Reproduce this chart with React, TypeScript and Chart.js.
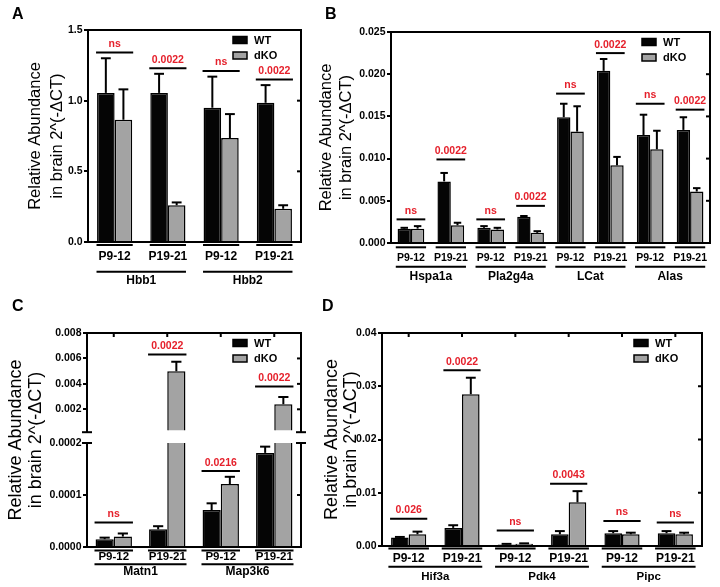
import React, { useEffect, useRef } from "react";
import { Chart, registerables } from "chart.js";

Chart.register(...registerables);

const FONT = "'Liberation Sans', Arial, Helvetica, sans-serif";
const WT_COLOR = "#050505";
const KO_COLOR = "#a3a3a3";
const SIG_COLOR = "#e5202b";
const SERIES_LABELS = ["WT", "dKO"];
const Y_TITLE = ["Relative Abundance", "in brain 2^(-ΔCT)"];

// ---------- Panel A ----------
const aCategories = ["P9-12", "P19-21", "P9-12", "P19-21"];
const aGenes = ["Hbb1", "Hbb2"];
const aWT = [1.055, 1.055, 0.95, 0.985];
const aWTErr = [0.245, 0.135, 0.22, 0.125];
const aKO = [0.865, 0.26, 0.735, 0.235];
const aKOErr = [0.215, 0.02, 0.17, 0.025];
const aSigLabels = ["ns", "0.0022", "ns", "0.0022"];
const aSigLevels = [1.34, 1.23, 1.21, 1.15];
const aTicks = [0, 0.5, 1.0, 1.5];

// ---------- Panel B ----------
const bCategories = ["P9-12", "P19-21", "P9-12", "P19-21", "P9-12", "P19-21", "P9-12", "P19-21"];
const bGenes = ["Hspa1a", "Pla2g4a", "LCat", "Alas"];
const bWT = [0.0017, 0.0073, 0.0018, 0.0031, 0.0149, 0.0204, 0.0128, 0.0134];
const bWTErr = [0.0001, 0.001, 0.0002, 0.0001, 0.0016, 0.0014, 0.0024, 0.0015];
const bKO = [0.0017, 0.0021, 0.0016, 0.0012, 0.0132, 0.0092, 0.0111, 0.0061];
const bKOErr = [0.0003, 0.0003, 0.0002, 0.0002, 0.003, 0.001, 0.0022, 0.0004];
const bSigLabels = ["ns", "0.0022", "ns", "0.0022", "ns", "0.0022", "ns", "0.0022"];
const bSigLevels = [0.0028, 0.0099, 0.0028, 0.0044, 0.0177, 0.0225, 0.0165, 0.0158];
const bTicks = [0, 0.005, 0.01, 0.015, 0.02, 0.025];

// ---------- Panel C (broken axis) ----------
const cCategories = ["P9-12", "P19-21", "P9-12", "P19-21"];
const cGenes = ["Matn1", "Map3k6"];
const cWT = [0.000015, 0.000034, 0.000071, 0.000181];
const cWTErr = [0.000003, 0.000006, 0.000013, 0.000012];
const cKO = [0.00002, 0.005, 0.000121, 0.0024];
const cKOErr = [0.000006, 0.00073, 0.000014, 0.00056];
const cSigLabels = ["ns", "0.0022", "0.0216", "0.0022"];
const cSigLevels = [0.000047, 0.0063, 0.000146, 0.0038];
const cUpperTicks = [0.002, 0.004, 0.006, 0.008];
const cLowerTicks = [0, 0.0001, 0.0002];

// ---------- Panel D ----------
const dCategories = ["P9-12", "P19-21", "P9-12", "P19-21", "P9-12", "P19-21"];
const dGenes = ["Hif3a", "Pdk4", "Pipc"];
const dWT = [0.0016, 0.0034, 0.0003, 0.0022, 0.0024, 0.0024];
const dWTErr = [0.0001, 0.0005, 0.0001, 0.0006, 0.0004, 0.0004];
const dKO = [0.0022, 0.0285, 0.0004, 0.0082, 0.0022, 0.0022];
const dKOErr = [0.0005, 0.0031, 0.0001, 0.0021, 0.0003, 0.0003];
const dSigLabels = ["0.026", "0.0022", "ns", "0.0043", "ns", "ns"];
const dSigLevels = [0.0051, 0.033, 0.0029, 0.0117, 0.0047, 0.0044];
const dTicks = [0, 0.01, 0.02, 0.03, 0.04];

interface Panel {
  key: string;
  categories: string[];
  genes: string[];
  wt: number[];
  wtErr: number[];
  ko: number[];
  koErr: number[];
  sigLabels: string[];
  sigLevels: number[];
  ticks: number[];
  decimals: number;
  min: number;
  max: number;
  canvas: { x: number; y: number; w: number; h: number };
  area: { l: number; r: number; t: number; b: number };
  title?: { size: number; lh: number; centerX: number };
  sideTitle?: { size: number; lh: number; centerX: number; centerY: number };
  showX: boolean;
  xH: number;
  xFont: number;
  xPad: number;
  subY: number;
  geneLineY: number;
  geneTextY: number;
  geneFont: number;
  subFrac: number;
  catPct: number;
  frameTop: boolean;
  frameBottom: boolean;
  topTicks: boolean;
  legend: boolean;
  breakCap?: "top" | "bottom";
  clipBottom: number;
}

const common = {
  showX: true,
  frameTop: true,
  frameBottom: true,
  topTicks: false,
  legend: true,
  clipBottom: 0,
};

const panels: Panel[] = [
  {
    ...common,
    key: "A",
    categories: aCategories, genes: aGenes,
    wt: aWT, wtErr: aWTErr, ko: aKO, koErr: aKOErr,
    sigLabels: aSigLabels, sigLevels: aSigLevels,
    ticks: aTicks, decimals: 1, min: 0, max: 1.5,
    canvas: { x: 0, y: 0, w: 360, h: 290 },
    area: { l: 88, r: 301, t: 30, b: 242 },
    title: { size: 16.5, lh: 22, centerX: 35 },
    xH: 48, xFont: 12, xPad: 7.5,
    subY: 3, geneLineY: 29.7, geneTextY: 38.5, geneFont: 12, subFrac: 0.34,
    catPct: 0.66,
  },
  {
    ...common,
    key: "B",
    categories: bCategories, genes: bGenes,
    wt: bWT, wtErr: bWTErr, ko: bKO, koErr: bKOErr,
    sigLabels: bSigLabels, sigLevels: bSigLevels,
    ticks: bTicks, decimals: 3, min: 0, max: 0.025,
    canvas: { x: 310, y: 0, w: 410, h: 290 },
    area: { l: 391, r: 710, t: 32, b: 243 },
    title: { size: 16.5, lh: 20, centerX: 326.7 },
    xH: 47, xFont: 10.5, xPad: 9,
    subY: 4.3, geneLineY: 23.7, geneTextY: 33.7, geneFont: 12, subFrac: 0.38,
    catPct: 0.67,
  },
  {
    ...common,
    key: "Cupper",
    categories: cCategories, genes: cGenes,
    wt: cWT, wtErr: cWTErr, ko: cKO, koErr: cKOErr,
    sigLabels: cSigLabels, sigLevels: cSigLevels,
    ticks: cUpperTicks, decimals: 3, min: 0.0002, max: 0.008,
    canvas: { x: 0, y: 290, w: 360, h: 150 },
    area: { l: 87, r: 301, t: 333, b: 433 },
    showX: false,
    xH: 0, xFont: 12, xPad: 0,
    subY: 0, geneLineY: 0, geneTextY: 0, geneFont: 12, subFrac: 0.36,
    catPct: 0.68,
    frameBottom: false,
    topTicks: true,
    breakCap: "bottom",
    clipBottom: -2,
  },
  {
    ...common,
    key: "Clower",
    categories: cCategories, genes: cGenes,
    wt: cWT, wtErr: cWTErr, ko: cKO, koErr: cKOErr,
    sigLabels: cSigLabels, sigLevels: cSigLevels,
    ticks: cLowerTicks, decimals: 4, min: 0, max: 0.0002,
    canvas: { x: 0, y: 290, w: 360, h: 297 },
    area: { l: 87, r: 301, t: 443, b: 547 },
    sideTitle: { size: 18, lh: 20, centerX: 16, centerY: 440 },
    xH: 40, xFont: 11.5, xPad: 2.8,
    subY: 3.5, geneLineY: 17.3, geneTextY: 25, geneFont: 12, subFrac: 0.36,
    catPct: 0.68,
    frameTop: false,
    legend: false,
    breakCap: "top",
  },
  {
    ...common,
    key: "D",
    categories: dCategories, genes: dGenes,
    wt: dWT, wtErr: dWTErr, ko: dKO, koErr: dKOErr,
    sigLabels: dSigLabels, sigLevels: dSigLevels,
    ticks: dTicks, decimals: 2, min: 0, max: 0.04,
    canvas: { x: 310, y: 290, w: 410, h: 297 },
    area: { l: 382, r: 702, t: 333, b: 546 },
    title: { size: 18, lh: 19, centerX: 331.7 },
    xH: 41, xFont: 12, xPad: 5,
    subY: 2.5, geneLineY: 20.7, geneTextY: 30.7, geneFont: 11.5, subFrac: 0.38,
    catPct: 0.66,
    topTicks: true,
  },
];

function makeDecor(p: Panel) {
  return {
    id: "decor" + p.key,
    afterDraw(chart: any) {
      const ctx = chart.ctx as CanvasRenderingContext2D;
      const area = chart.chartArea;
      const xs = chart.scales.x;
      const ys = chart.scales.y;
      const line = (x0: number, y0: number, x1: number, y1: number) => {
        ctx.beginPath();
        ctx.moveTo(x0, y0);
        ctx.lineTo(x1, y1);
        ctx.stroke();
      };
      ctx.save();

      // error bars (clipped to plot area)
      ctx.save();
      ctx.beginPath();
      ctx.rect(
        area.left - 5,
        area.top,
        area.right - area.left + 10,
        area.bottom - area.top + p.clipBottom
      );
      ctx.clip();
      ctx.strokeStyle = "#000";
      ctx.lineWidth = 2;
      const series: [number[], number[]][] = [
        [p.wt, p.wtErr],
        [p.ko, p.koErr],
      ];
      series.forEach(([vals, errs], di) => {
        const meta = chart.getDatasetMeta(di);
        meta.data.forEach((el: any, j: number) => {
          const yv = ys.getPixelForValue(vals[j]);
          const yt = ys.getPixelForValue(vals[j] + errs[j]);
          const half = el.width * 0.28;
          line(el.x, yv, el.x, yt);
          line(el.x - half, yt, el.x + half, yt);
        });
      });
      ctx.restore();

      // frame
      ctx.strokeStyle = "#000";
      ctx.lineWidth = 2;
      const tExt = p.frameTop ? 1 : 0;
      const bExt = p.frameBottom ? 1 : 0;
      line(area.left, area.top - tExt, area.left, area.bottom + bExt);
      line(area.right, area.top - tExt, area.right, area.bottom + bExt);
      if (p.frameTop) line(area.left - 1, area.top, area.right + 1, area.top);
      if (p.frameBottom) line(area.left - 1, area.bottom, area.right + 1, area.bottom);

      // right-side ticks
      p.ticks.forEach((v) => {
        if (v <= p.min || v >= p.max) return;
        const y = ys.getPixelForValue(v);
        line(area.right - 4, y, area.right, y);
      });
      // top ticks
      if (p.topTicks) {
        p.categories.forEach((_, j) => {
          const x = xs.getPixelForValue(j);
          line(x, area.top, x, area.top + 4);
        });
      }
      // axis break caps
      if (p.breakCap) {
        const y = p.breakCap === "top" ? area.top : area.bottom;
        line(area.left - 5, y, area.left + 5, y);
        line(area.right - 5, y, area.right + 5, y);
      }

      // significance brackets
      const m0 = chart.getDatasetMeta(0).data;
      const m1 = chart.getDatasetMeta(1).data;
      p.sigLevels.forEach((lv, j) => {
        if (lv < p.min || lv > p.max) return;
        const x0 = m0[j].x - m0[j].width / 2 - 1;
        const x1 = m1[j].x + m1[j].width / 2 + 1;
        const y = ys.getPixelForValue(lv);
        ctx.strokeStyle = "#000";
        ctx.lineWidth = 2;
        line(x0, y, x1, y);
        ctx.fillStyle = SIG_COLOR;
        ctx.font = `bold 10.5px ${FONT}`;
        ctx.textAlign = "center";
        ctx.textBaseline = "alphabetic";
        ctx.fillText(p.sigLabels[j], (x0 + x1) / 2, y - 5.5);
      });

      // legend
      if (p.legend) {
        const bx = area.right - 68;
        chart.data.datasets.forEach((ds: any, i: number) => {
          const cy = area.top + 10 + i * 15.5;
          ctx.fillStyle = ds.backgroundColor;
          ctx.fillRect(bx, cy - 3.5, 14, 7);
          ctx.strokeStyle = "#000";
          ctx.lineWidth = 1.5;
          ctx.strokeRect(bx, cy - 3.5, 14, 7);
          ctx.fillStyle = "#000";
          ctx.font = `bold 11px ${FONT}`;
          ctx.textAlign = "left";
          ctx.textBaseline = "middle";
          ctx.fillText(ds.label, bx + 21, cy + 0.5);
        });
      }

      // group underlines and gene names
      if (p.showX) {
        const cw = (area.right - area.left) / p.categories.length;
        ctx.strokeStyle = "#000";
        ctx.lineWidth = 2;
        const spans = p.categories.map((_, j) => {
          const cx = xs.getPixelForValue(j);
          return [cx - p.subFrac * cw, cx + p.subFrac * cw];
        });
        spans.forEach(([a, b]) => line(a, area.bottom + p.subY, b, area.bottom + p.subY));
        p.genes.forEach((g, gi) => {
          const a = spans[2 * gi][0];
          const b = spans[2 * gi + 1][1];
          line(a, area.bottom + p.geneLineY, b, area.bottom + p.geneLineY);
          ctx.fillStyle = "#000";
          ctx.font = `bold ${p.geneFont}px ${FONT}`;
          ctx.textAlign = "center";
          ctx.textBaseline = "middle";
          ctx.fillText(g, (a + b) / 2, area.bottom + p.geneTextY);
        });
      }

      // title spanning a broken axis
      if (p.sideTitle) {
        const st = p.sideTitle;
        ctx.save();
        ctx.translate(st.centerX - p.canvas.x, st.centerY - p.canvas.y);
        ctx.rotate(-Math.PI / 2);
        ctx.font = `${st.size}px ${FONT}`;
        ctx.textAlign = "center";
        ctx.textBaseline = "middle";
        ctx.fillStyle = "#000";
        Y_TITLE.forEach((t, i) => ctx.fillText(t, 0, i * st.lh));
        ctx.restore();
      }
      ctx.restore();
    },
  };
}

function buildConfig(p: Panel): any {
  const cv = p.canvas;
  const A = p.area;
  const padLeft = p.title ? p.title.centerX - p.title.lh / 2 - cv.x : 0;
  const yW = A.l - cv.x - padLeft;
  const padBottom = cv.h - (A.b - cv.y) - (p.showX ? p.xH : 0);
  const clip = { left: 0, top: 0, right: 0, bottom: p.clipBottom };
  return {
    type: "bar",
    data: {
      labels: p.categories,
      datasets: [
        {
          label: SERIES_LABELS[0],
          data: p.wt,
          backgroundColor: WT_COLOR,
          borderColor: "#000",
          borderWidth: 1.5,
          categoryPercentage: p.catPct,
          barPercentage: 1,
          clip,
        },
        {
          label: SERIES_LABELS[1],
          data: p.ko,
          backgroundColor: KO_COLOR,
          borderColor: "#000",
          borderWidth: 1.5,
          categoryPercentage: p.catPct,
          barPercentage: 1,
          clip,
        },
      ],
    },
    options: {
      responsive: false,
      maintainAspectRatio: false,
      animation: false,
      events: [],
      layout: {
        padding: {
          left: padLeft,
          right: cv.w - (A.r - cv.x),
          top: A.t - cv.y,
          bottom: padBottom,
        },
      },
      plugins: {
        legend: { display: false },
        tooltip: { enabled: false },
        title: { display: false },
      },
      scales: {
        x: {
          display: p.showX,
          grid: { display: false, drawTicks: false },
          border: { display: false },
          ticks: {
            padding: p.xPad,
            color: "#000",
            autoSkip: false,
            maxRotation: 0,
            minRotation: 0,
            font: { family: FONT, size: p.xFont, weight: "bold" },
          },
          afterFit: (s: any) => {
            s.height = p.xH;
          },
        },
        y: {
          min: p.min,
          max: p.max,
          afterBuildTicks: (s: any) => {
            s.ticks = p.ticks.map((v) => ({ value: v }));
          },
          ticks: {
            callback: (v: any) => Number(v).toFixed(p.decimals),
            color: "#000",
            padding: 1.5,
            font: { family: FONT, size: 10.5, weight: "bold" },
          },
          grid: {
            drawOnChartArea: false,
            drawTicks: true,
            tickLength: 4,
            color: "#000",
            lineWidth: 2,
          },
          border: { display: false },
          title: p.title
            ? {
                display: true,
                text: Y_TITLE,
                color: "#000",
                padding: { top: 0, bottom: 0 },
                font: { family: FONT, size: p.title.size, lineHeight: p.title.lh / p.title.size },
              }
            : { display: false },
          afterFit: (s: any) => {
            s.width = yW;
          },
        },
      },
    },
    plugins: [makeDecor(p)],
  };
}

function PanelChart({ panel }: { panel: Panel }) {
  const ref = useRef<HTMLCanvasElement>(null);
  useEffect(() => {
    if (!ref.current) return;
    const chart = new Chart(ref.current, buildConfig(panel));
    return () => chart.destroy();
  }, [panel]);
  const c = panel.canvas;
  return (
    <canvas
      ref={ref}
      width={c.w}
      height={c.h}
      style={{ position: "absolute", left: c.x, top: c.y, width: c.w, height: c.h }}
    />
  );
}

const panelLetters = [
  { text: "A", x: 12, y: 6 },
  { text: "B", x: 325, y: 6 },
  { text: "C", x: 12, y: 298 },
  { text: "D", x: 322, y: 298 },
];

export default function App() {
  return (
    <div
      style={{
        position: "absolute",
        left: 0,
        top: 0,
        width: 720,
        height: 587,
        background: "#fff",
        overflow: "hidden",
      }}
    >
      {panels.map((p) => (
        <PanelChart key={p.key} panel={p} />
      ))}
      {panelLetters.map((l) => (
        <div
          key={l.text}
          style={{
            position: "absolute",
            left: l.x,
            top: l.y,
            fontFamily: FONT,
            fontWeight: "bold",
            fontSize: 16,
            lineHeight: "16px",
            color: "#000",
          }}
        >
          {l.text}
        </div>
      ))}
    </div>
  );
}
